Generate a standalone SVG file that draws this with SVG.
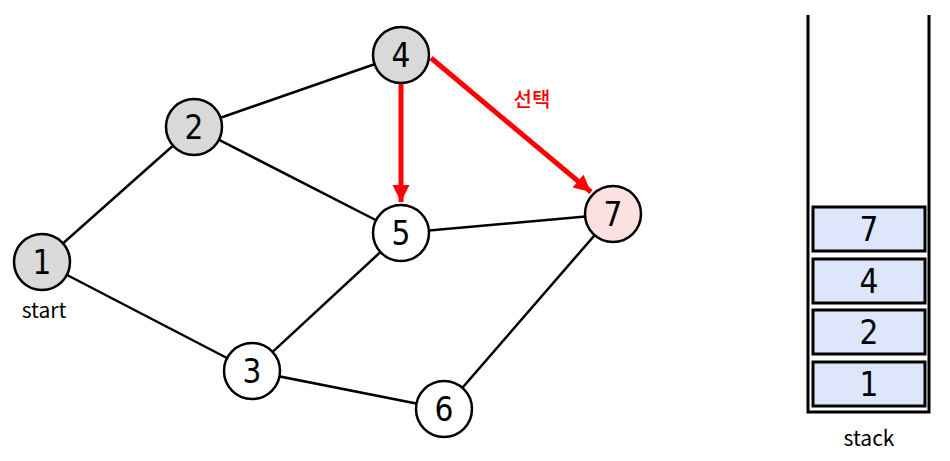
<svg xmlns="http://www.w3.org/2000/svg" width="950" height="461" viewBox="0 0 950 461">
<style>
.e{stroke:#000;stroke-width:2.5;fill:none}
.a{stroke:#ff0000;stroke-width:5;fill:none}
.n{stroke:#000;stroke-width:2.5}
.t{font-family:"DejaVu Sans Condensed","DejaVu Sans",sans-serif;font-stretch:condensed;font-size:33px;text-anchor:middle;fill:#000}
.s{font-family:"Noto Sans CJK KR","Liberation Sans",sans-serif;font-size:21px;text-anchor:middle;fill:#000}
.b{fill:#dde6fb;stroke:#000;stroke-width:3}
</style>
<defs>
<marker id="ah" markerWidth="4" markerHeight="4" refX="3.4" refY="1.7" orient="auto" markerUnits="strokeWidth">
<path d="M0,0 L3.4,1.7 L0,3.4 Z" fill="#ff0000"/>
</marker>
</defs>
<rect width="950" height="461" fill="#fff"/>
<g id="connectors">
<line class="e" x1="42" y1="262" x2="194" y2="127"/>
<line class="e" x1="42" y1="262" x2="252" y2="371"/>
<line class="e" x1="194" y1="127" x2="401" y2="55"/>
<line class="e" x1="194" y1="127" x2="401" y2="233"/>
<line class="e" x1="401" y1="233" x2="613" y2="214"/>
<line class="e" x1="401" y1="233" x2="252" y2="371"/>
<line class="e" x1="252" y1="371" x2="444" y2="409"/>
<line class="e" x1="444" y1="409" x2="613" y2="214"/>
<line class="a" x1="401" y1="84" x2="401" y2="202" marker-end="url(#ah)"/>
<line class="a" x1="431" y1="58" x2="591" y2="192" marker-end="url(#ah)"/>
<text x="532" y="107" font-family="'Noto Sans CJK KR',sans-serif" font-size="20" font-weight="500" fill="#ff0000" text-anchor="middle">선택</text>
</g>
<g id="node1"><circle class="n" cx="42" cy="262" r="28" fill="#d9d9d9"/><text class="t" x="42" y="274">1</text></g>
<text class="s" x="44" y="318">start</text>
<g id="node2"><circle class="n" cx="194" cy="127" r="28" fill="#d9d9d9"/><text class="t" x="194" y="139">2</text></g>
<g id="node4"><circle class="n" cx="401" cy="55" r="28" fill="#d9d9d9"/><text class="t" x="401" y="67">4</text></g>
<g id="node5"><circle class="n" cx="401" cy="233" r="28" fill="#fff"/><text class="t" x="401" y="245">5</text></g>
<g id="node7"><circle class="n" cx="613" cy="214" r="28" fill="#fde0e0"/><text class="t" x="613" y="226">7</text></g>
<g id="node3"><circle class="n" cx="252" cy="371" r="28" fill="#fff"/><text class="t" x="252" y="383">3</text></g>
<g id="node6"><circle class="n" cx="444" cy="409" r="28" fill="#fff"/><text class="t" x="444" y="421">6</text></g>
<g id="stack">
<path d="M808,15 V412 H929 V15" stroke="#000" stroke-width="3" fill="none"/>
<rect class="b" x="813" y="207" width="112" height="44"/><text class="t" x="869" y="241">7</text>
<rect class="b" x="813" y="259" width="112" height="44"/><text class="t" x="869" y="293">4</text>
<rect class="b" x="813" y="310" width="112" height="44"/><text class="t" x="869" y="344">2</text>
<rect class="b" x="813" y="362" width="112" height="44"/><text class="t" x="869" y="396">1</text>
<text class="s" x="869" y="446">stack</text>
</g>
</svg>
